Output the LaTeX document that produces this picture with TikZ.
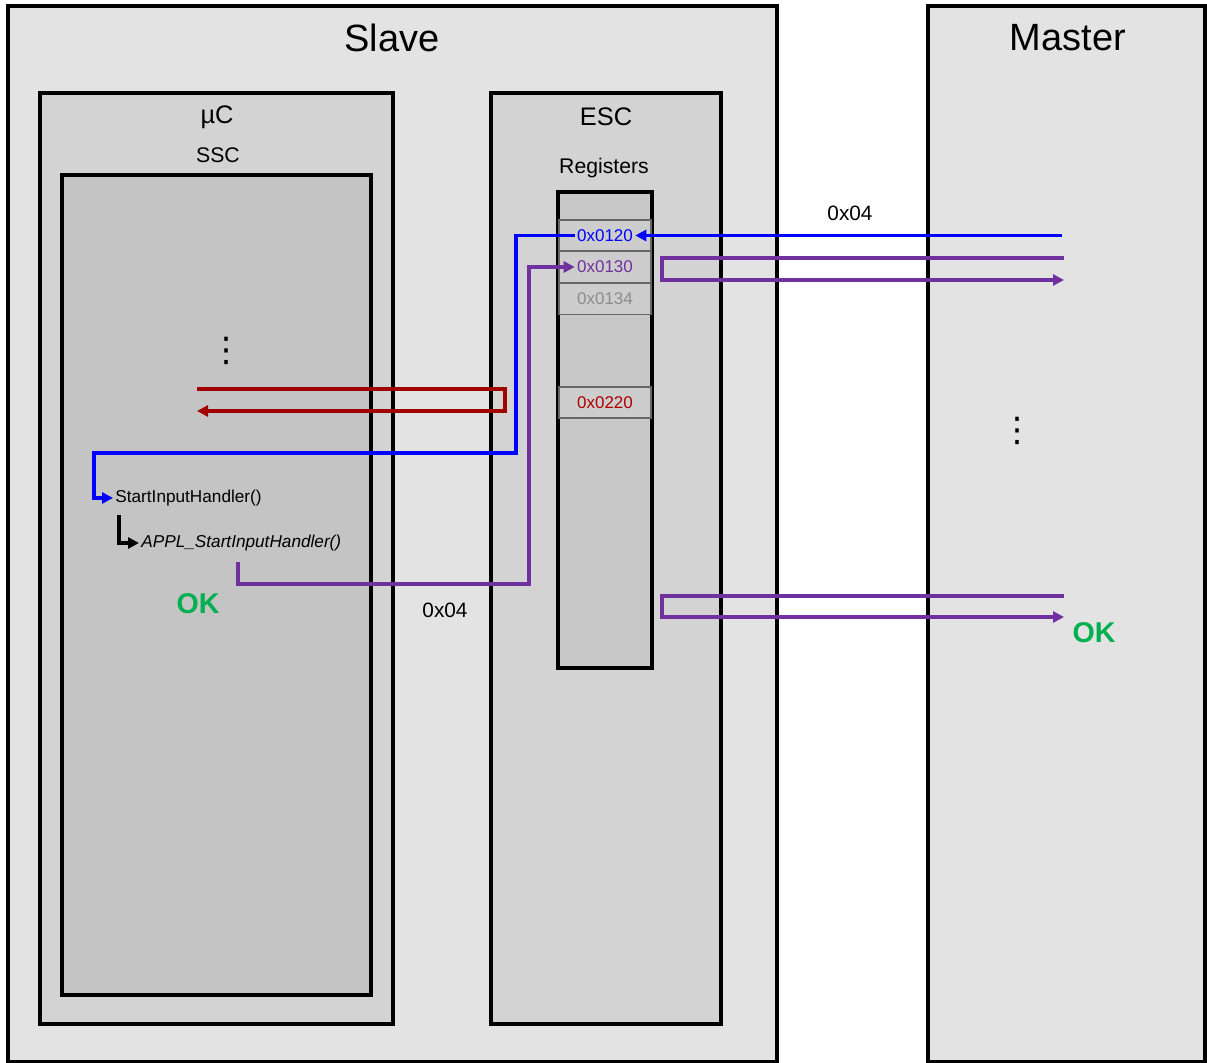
\documentclass[tikz,border=0pt]{standalone}
\usepackage{fontspec}
\setmainfont{Liberation Sans}
\newfontfamily\dotsfont{DejaVu Sans}
\usetikzlibrary{arrows.meta,positioning,fit,calc}
\definecolor{slavegray}{HTML}{E3E3E3}
\definecolor{ucgray}{HTML}{D3D3D3}
\definecolor{sscgray}{HTML}{C4C4C4}
\definecolor{reggray}{HTML}{C8C8C8}
\definecolor{rowgray}{HTML}{CDCDCD}
\definecolor{sigblue}{HTML}{0000FF}
\definecolor{sigpurple}{HTML}{7030A0}
\definecolor{sigred}{HTML}{A00000}
\definecolor{okgreen}{HTML}{00B050}

\begin{document}
\begin{tikzpicture}[
    x=0.5pt, y=-0.5pt,
    box/.style={rectangle, draw, line width=1.7pt, inner sep=0pt},
    regrow/.style={rectangle, draw=black!60, line width=0.6pt, fill=rowgray, minimum width=46pt, minimum height=15.5pt, inner sep=0pt},
    regtxt/.style={inner sep=1pt, font=\fontsize{8.5}{10}\selectfont},
    title/.style={font=\fontsize{19}{22}\selectfont},
    head/.style={font=\fontsize{12.7}{15}\selectfont},
    sub/.style={font=\fontsize{10.6}{13}\selectfont},
    func/.style={inner sep=1pt, anchor=west, font=\fontsize{8.6}{10}\selectfont},
    ok/.style={text=okgreen, font=\fontsize{14.3}{17}\selectfont\bfseries},
    dots/.style={inner sep=0pt, font=\dotsfont\fontsize{17}{20}\selectfont},
    sig/.style={line width=1.6pt, -{Triangle[length=5.5pt,width=5.5pt]}},
]
    \useasboundingbox (0,0) rectangle (1207,1063);
    \fill[white] (0,0) rectangle (1207,1063);

    % outer boxes
    \node[box, fill=slavegray, fit={(8,6) (777,1062)}] (slave) {};
    \node[box, fill=slavegray, fit={(928,6) (1205,1062)}] (master) {};
    \node[box, fill=ucgray, fit={(40,93) (393,1024)}] (uc) {};
    \node[box, fill=sscgray, fit={(62,175) (371,995)}] (ssc) {};
    \node[box, fill=ucgray, fit={(491,93) (721,1024)}] (esc) {};
    \node[box, fill=reggray, fit={(558,192) (652,668)}] (reg) {};

    \node[title] at (392,38) {Slave};
    \node[title] at (1068,38) {Master};
    \node[head] at (217,117) {µC};
    \node[sub] at (218,155) {SSC};
    \node[head] at (606,117) {ESC};
    \node[sub] at (604,168) {Registers};

    % register rows
    \node[regrow] (r120) at (605,235.5) {};
    \node[regrow] (r130) at (605,267) {};
    \node[regrow] (r134) at (605,299) {};
    \node[regrow] (r220) at (605,402.5) {};
    \node[regtxt, text=sigblue] (t120) at (r120) {0x0120};
    \node[regtxt, text=sigpurple] (t130) at (r130) {0x0130};
    \node[regtxt, text=black!45] (t134) at (r134) {0x0134};
    \node[regtxt, text=sigred!85!red] (t220) at (r220) {0x0220};

    % SSC functions
    \node[func] (sih) at (113,498) {StartInputHandler()};
    \node[func] (appl) at (139,543) {\itshape APPL\_StartInputHandler()};
    \node[ok] (okL) at (198,604) {OK};
    \node[ok] (okR) at (1094,633) {OK};
    \node[dots] (dotsL) at (226,351) {⋮};
    \node[dots] (dotsR) at (1017,431) {⋮};

    \node[sub, font=\fontsize{10.4}{12}\selectfont] (valTop) at (850,213) {0x04};
    \node[sub, font=\fontsize{10.4}{12}\selectfont] (valBot) at (445,610) {0x04};

    % free ends
    \coordinate (mWr) at (1062,235.5);
    \coordinate (mRd) at (1064,258);
    \coordinate (mRdBack) at (1064,280);
    \coordinate (mOk) at (1064,596);
    \coordinate (mOkBack) at (1064,617);
    \coordinate (redIn) at (197,389);
    \coordinate (redOut) at (197,411);
    \coordinate (applDone) at (238,562);
    \coordinate (callStart) at (119,515);

    % write 0x04 to 0x0120
    \draw[sig, sigblue] (mWr) -- (t120.east);
    \draw[sig, sigblue] (t120.west) -| (516,453) -| (94,498) -- (sih.west);
    \draw[sig] (callStart) |- (appl.west);
    % result back to 0x0130
    \draw[sig, sigpurple] (applDone) |- (529,584) |- (t130.west);
    \draw[sig, sigpurple] (mRd) -- ++(-402,0) |- (mRdBack);
    \draw[sig, sigpurple] (mOk) -- ++(-402,0) |- (mOkBack);
    % 0x0220 loop
    \draw[sig, sigred] (redIn) -- ++(308,0) |- (redOut);
\end{tikzpicture}
\end{document}
